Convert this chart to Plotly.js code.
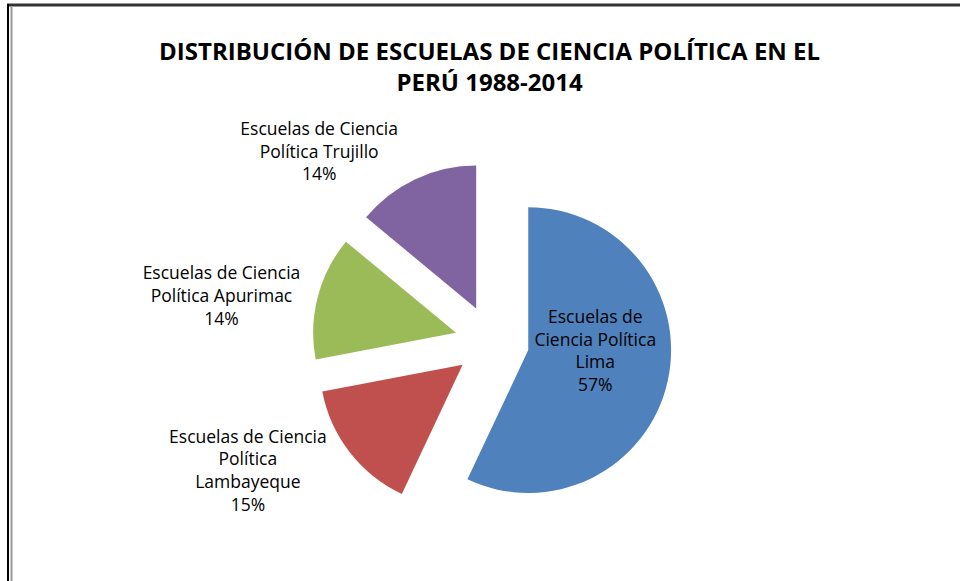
<!DOCTYPE html>
<html>
<head>
<meta charset="utf-8">
<script src="https://cdn.plot.ly/plotly-3.0.1.min.js"></script>
<style>html,body{margin:0;padding:0;background:#fff;}#chart{width:960px;height:581px;}</style>
</head>
<body>
<div id="chart"></div>
<script>
const labels = [
  'Escuelas de<br>Ciencia Política<br>Lima',
  'Escuelas de Ciencia<br>Política<br>Lambayeque',
  'Escuelas de Ciencia<br>Política Apurimac',
  'Escuelas de Ciencia<br>Política Trujillo'
];
const values = [57, 15, 14, 14];
const colors = ['#4F81BD', '#C0504D', '#9BBB59', '#8064A2'];
const textPositions = ['inside', 'outside', 'outside', 'outside'];
const chartTitle = 'DISTRIBUCIÓN DE ESCUELAS DE CIENCIA POLÍTICA EN EL<br>PERÚ 1988-2014';

const W = 960, H = 581;
const trace = {
  type: 'pie',
  labels: labels,
  values: values,
  sort: false,
  direction: 'clockwise',
  rotation: 0,
  pull: [0.26, 0.26, 0.26, 0.26],
  marker: {colors: colors, line: {width: 0}},
  texttemplate: '%{label}<br>%{percent:.0%}',
  textposition: textPositions,
  insidetextorientation: 'horizontal',
  textfont: {family: 'Open Sans, sans-serif', size: 17.5, color: '#000'},
  showlegend: false,
  hoverinfo: 'none',
  domain: {x: [312 / W, 672 / W], y: [(H - 522) / H, (H - 162) / H]}
};

const layout = {
  width: W, height: H,
  margin: {l: 0, r: 0, t: 0, b: 0},
  paper_bgcolor: '#fff',
  plot_bgcolor: '#fff',
  title: {
    text: chartTitle,
    font: {family: 'Open Sans, sans-serif', size: 24, color: '#000', weight: 'bold'},
    x: 0.51, xanchor: 'center', xref: 'paper',
    y: 1 - 60 / H, yanchor: 'middle', yref: 'container'
  },
  shapes: [
    {type: 'line', xref: 'paper', yref: 'paper', x0: 7 / W, x1: 1, y0: 1 - 5 / H, y1: 1 - 5 / H, line: {color: '#333', width: 3}},
    {type: 'line', xref: 'paper', yref: 'paper', x0: 8 / W, x1: 8 / W, y0: 0, y1: 1 - 4 / H, line: {color: '#000', width: 2}},
    {type: 'line', xref: 'paper', yref: 'paper', x0: 11.5 / W, x1: 11.5 / W, y0: 0, y1: 1 - 6 / H, line: {color: '#999', width: 2}}
  ]
};

Plotly.newPlot('chart', [trace], layout, {displayModeBar: false, staticPlot: true});
</script>
</body>
</html>
